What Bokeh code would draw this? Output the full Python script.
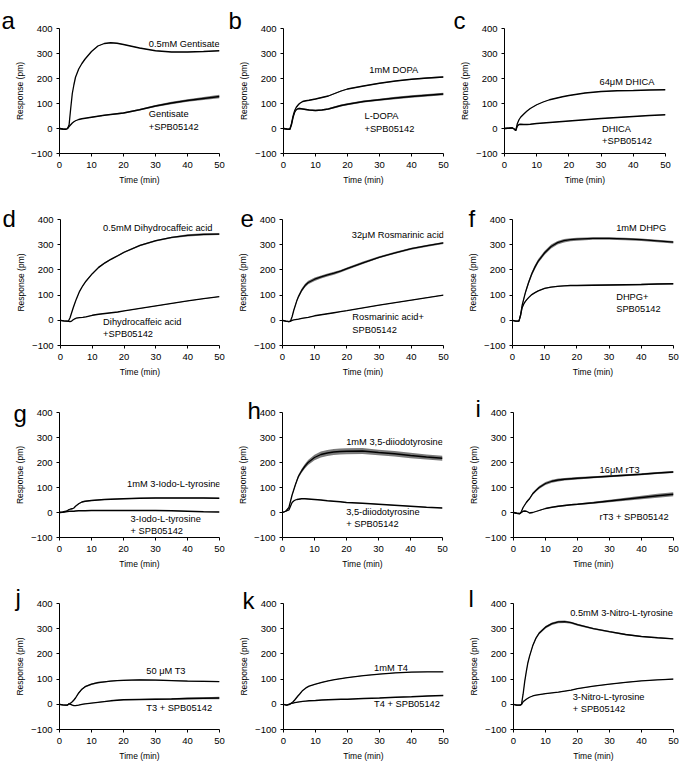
from bokeh.plotting import figure
from bokeh.layouts import column, row
from bokeh.models import Label, Range1d, FixedTicker
from bokeh.embed import file_html
from bokeh.resources import INLINE

# ---------------- data ----------------
T = [0, 1, 2, 2.5, 3, 3.5, 4, 4.5, 5, 6, 7, 8, 10, 12, 14, 16, 18, 20, 25, 30, 35, 40, 45, 50]
X_TICKS = [0, 10, 20, 30, 40, 50]
Y_TICKS = [-100, 0, 100, 200, 300, 400]

a_hi = [0, -2, -3, -1, 15, 80, 140, 175, 205, 238, 260, 278, 308, 330, 340, 343, 341, 336, 322, 311, 306, 306, 308, 311]
a_hi_err = [0, 0, 0, 0, 1, 1, 1, 1, 1, 1, 1, 1, 1, 1, 1, 1, 1, 1, 1, 1, 1, 1, 1, 1]
a_lo = [0, -2, -3, 0, 8, 15, 22, 27, 31, 36, 39, 41, 45, 49, 53, 56, 59, 62, 75, 90, 102, 112, 120, 128]
a_lo_err = [0, 0, 0, 0, 1, 1, 1, 1, 1, 1, 1, 1, 2, 2, 2, 2, 3, 3, 3, 4, 5, 5, 6, 7]

b_hi = [0, -2, -3, 20, 50, 72, 85, 93, 100, 108, 111, 113, 118, 124, 130, 140, 150, 158, 170, 181, 190, 197, 202, 206]
b_hi_err = [0, 0, 0, 1, 2, 2, 2, 2, 2, 2, 2, 2, 2, 2, 2, 2, 2, 2, 2, 2, 2, 2, 3, 3]
b_lo = [0, -2, -3, 15, 45, 65, 75, 79, 80, 78, 76, 74, 72, 74, 78, 85, 92, 97, 108, 115, 122, 128, 133, 138]
b_lo_err = [0, 0, 0, 1, 2, 3, 3, 3, 3, 3, 3, 3, 3, 3, 3, 4, 4, 4, 4, 4, 5, 5, 5, 5]

c_hi = [0, 1, 2, 2, -2, -8, 20, 35, 45, 58, 70, 80, 95, 106, 115, 121, 127, 132, 142, 148, 151, 152, 154, 155]
c_hi_err = [0, 0, 0, 0, 0, 1, 1, 1, 1, 1, 1, 1, 1, 1, 1, 1, 1, 1, 1, 1, 1, 1, 1, 1]
c_lo = [0, 1, 2, 2, -2, -8, 10, 16, 17, 16, 16, 17, 20, 22, 24, 26, 28, 30, 35, 40, 44, 48, 52, 55]
c_lo_err = [0, 0, 0, 0, 0, 1, 1, 1, 1, 1, 1, 1, 1, 1, 1, 1, 1, 1, 1, 1, 1, 1, 1, 1]

d_hi = [0, -2, -3, -3, 10, 30, 50, 68, 85, 115, 137, 155, 185, 210, 228, 243, 256, 270, 297, 316, 329, 337, 341, 342]
d_hi_err = [0, 0, 0, 0, 1, 1, 2, 2, 2, 2, 2, 2, 2, 3, 3, 3, 3, 3, 3, 3, 3, 4, 4, 4]
d_lo = [0, -2, -3, -4, -5, -3, 2, 6, 9, 11, 12, 14, 20, 24, 27, 30, 33, 37, 47, 57, 67, 77, 86, 94]
d_lo_err = [0, 0, 0, 0, 0, 0, 1, 1, 1, 1, 1, 1, 1, 1, 1, 1, 1, 1, 1, 1, 1, 1, 1, 1]

e_hi = [0, -3, -5, -3, 15, 40, 60, 80, 95, 120, 138, 150, 163, 172, 180, 187, 195, 205, 228, 250, 268, 284, 296, 307]
e_hi_err = [0, 0, 0, 0, 2, 3, 4, 5, 6, 7, 7, 7, 7, 6, 6, 6, 5, 5, 5, 4, 4, 4, 4, 4]
e_lo = [0, -3, -5, -3, 0, 2, 3, 4, 5, 8, 10, 12, 18, 22, 26, 30, 34, 38, 49, 60, 70, 80, 90, 100]
e_lo_err = [0, 0, 0, 0, 0, 0, 1, 1, 1, 1, 1, 1, 1, 1, 1, 1, 1, 1, 1, 1, 1, 1, 1, 1]

f_hi = [0, -3, -3, 20, 60, 85, 110, 130, 150, 185, 212, 235, 268, 293, 308, 316, 320, 322, 325, 325, 323, 320, 315, 310]
f_hi_err = [0, 0, 0, 2, 4, 5, 6, 7, 8, 8, 8, 8, 8, 8, 7, 7, 6, 6, 5, 5, 5, 5, 5, 5]
f_lo = [0, -3, -3, 20, 50, 65, 75, 83, 90, 102, 110, 117, 127, 132, 135, 137, 138, 138, 139, 140, 141, 142, 144, 145]
f_lo_err = [0, 0, 0, 1, 2, 2, 2, 2, 2, 2, 2, 2, 2, 2, 2, 2, 2, 2, 3, 3, 3, 3, 3, 3]

g_hi = [0, 2, 5, 8, 12, 14, 15, 18, 25, 35, 42, 45, 48, 50, 52, 53, 54, 55, 57, 58, 58, 58, 58, 57]
g_hi_err = [0, 0, 1, 1, 1, 1, 1, 1, 1, 2, 2, 2, 2, 2, 2, 2, 2, 2, 2, 2, 2, 2, 2, 2]
g_lo = [0, 1, 3, 4, 5, 5, 5, 5, 6, 7, 7, 7, 8, 8, 8, 8, 8, 8, 8, 8, 7, 5, 3, 2]
g_lo_err = [0, 0, 0, 0, 1, 1, 1, 1, 1, 1, 1, 1, 1, 1, 1, 1, 1, 1, 1, 1, 1, 1, 1, 1]

h_hi = [0, 5, 20, 45, 70, 90, 110, 128, 145, 167, 185, 200, 220, 232, 238, 242, 244, 245, 246, 240, 235, 228, 222, 217]
h_hi_err = [0, 0, 1, 2, 3, 4, 5, 6, 7, 8, 9, 10, 11, 12, 12, 12, 12, 12, 12, 11, 11, 11, 10, 10]
h_lo = [0, 5, 10, 25, 40, 46, 50, 52, 53, 55, 55, 54, 52, 50, 47, 45, 43, 40, 37, 33, 29, 25, 21, 18]
h_lo_err = [0, 0, 1, 1, 1, 1, 1, 1, 1, 1, 1, 1, 1, 1, 1, 1, 1, 1, 1, 1, 1, 1, 1, 1]

i_hi = [0, -3, -5, 5, 20, 30, 40, 48, 55, 75, 88, 100, 116, 125, 130, 133, 135, 137, 141, 145, 149, 153, 158, 162]
i_hi_err = [0, 0, 0, 1, 2, 2, 3, 3, 4, 5, 5, 6, 6, 6, 6, 5, 5, 5, 4, 4, 4, 4, 4, 4]
i_lo = [0, -3, -4, 0, 5, 6, 5, 2, -2, 0, 4, 8, 16, 21, 25, 28, 31, 33, 39, 46, 53, 60, 67, 73]
i_lo_err = [0, 0, 0, 0, 1, 1, 1, 1, 1, 1, 1, 2, 2, 2, 3, 3, 3, 3, 4, 5, 6, 7, 8, 8]

j_hi = [0, -2, -3, -3, 2, 5, 10, 17, 25, 45, 60, 70, 80, 86, 89, 92, 94, 95, 97, 96, 94, 92, 91, 90]
j_hi_err = [0, 0, 0, 0, 1, 1, 1, 2, 2, 3, 3, 3, 3, 3, 2, 2, 2, 2, 2, 2, 2, 2, 2, 2]
j_lo = [0, -2, -3, -3, 2, 0, -3, -5, -5, -3, 0, 2, 5, 8, 11, 14, 16, 18, 19, 20, 21, 23, 24, 25]
j_lo_err = [0, 0, 0, 0, 1, 1, 1, 1, 1, 1, 1, 1, 1, 1, 2, 2, 2, 2, 2, 3, 3, 4, 4, 5]

k_hi = [0, -3, 0, 5, 10, 17, 25, 33, 40, 55, 65, 72, 80, 87, 93, 98, 102, 106, 114, 120, 125, 128, 129, 129]
k_hi_err = [0, 0, 0, 0, 1, 1, 1, 1, 1, 1, 1, 1, 1, 1, 1, 1, 1, 1, 1, 1, 1, 1, 1, 1]
k_lo = [0, -3, 2, 4, 5, 7, 8, 9, 10, 12, 13, 14, 15, 17, 18, 19, 20, 20, 23, 25, 28, 30, 33, 35]
k_lo_err = [0, 0, 0, 0, 1, 1, 1, 1, 1, 1, 1, 1, 1, 1, 1, 1, 1, 1, 1, 1, 1, 1, 1, 1]

l_hi = [0, -3, -3, 0, 40, 90, 130, 165, 190, 232, 262, 282, 306, 320, 327, 328, 324, 316, 300, 288, 277, 269, 264, 260]
l_hi_err = [0, 0, 0, 0, 2, 3, 3, 3, 4, 4, 5, 5, 5, 5, 5, 5, 4, 4, 3, 3, 3, 2, 2, 2]
l_lo = [0, -3, -3, 0, 10, 15, 20, 24, 28, 33, 36, 38, 42, 45, 48, 52, 56, 62, 72, 80, 87, 93, 97, 100]
l_lo_err = [0, 0, 0, 0, 1, 1, 1, 1, 1, 1, 1, 1, 1, 1, 1, 1, 1, 1, 1, 1, 1, 1, 1, 2]

# panel letter, series, annotations (text, x, y)
panels = [
    ("a", [(a_hi, a_hi_err), (a_lo, a_lo_err)],
     [("0.5mM Gentisate", 27.9, 337), ("Gentisate", 27.9, 57), ("+SPB05142", 27.9, 7)]),
    ("b", [(b_hi, b_hi_err), (b_lo, b_lo_err)],
     [("1mM DOPA", 26.8, 233), ("L-DOPA", 25.3, 50), ("+SPB05142", 25.3, 0)]),
    ("c", [(c_hi, c_hi_err), (c_lo, c_lo_err)],
     [("64\u03bcM DHICA", 29.5, 185), ("DHICA", 30.3, 0), ("+SPB05142", 30.3, -49)]),
    ("d", [(d_hi, d_hi_err), (d_lo, d_lo_err)],
     [("0.5mM Dihydrocaffeic acid", 13.4, 367), ("Dihydrocaffeic acid", 13.4, -5), ("+SPB05142", 13.4, -56)]),
    ("e", [(e_hi, e_hi_err), (e_lo, e_lo_err)],
     [("32\u03bcM Rosmarinic acid", 21.5, 340), ("Rosmarinic acid+", 21.7, 13), ("SPB05142", 21.7, -37)]),
    ("f", [(f_hi, f_hi_err), (f_lo, f_lo_err)],
     [("1mM DHPG", 32.2, 367), ("DHPG+", 32.2, 93), ("SPB05142", 32.2, 46)]),
    ("g", [(g_hi, g_hi_err), (g_lo, g_lo_err)],
     [("1mM 3-Iodo-L-tyrosine", 21.1, 113), ("3-Iodo-L-tyrosine", 22.2, -27), ("+ SPB05142", 22.2, -73)]),
    ("h", [(h_hi, h_hi_err), (h_lo, h_lo_err)],
     [("1mM 3,5-diiodotyrosine", 19.9, 284), ("3,5-diiodotyrosine", 19.9, 3), ("+ SPB05142", 19.9, -47)]),
    ("i", [(i_hi, i_hi_err), (i_lo, i_lo_err)],
     [("16\u03bcM rT3", 26.9, 171), ("rT3 + SPB05142", 26.9, -17)]),
    ("j", [(j_hi, j_hi_err), (j_lo, j_lo_err)],
     [("50 \u03bcM T3", 27.1, 131), ("T3 + SPB05142", 27.1, -13)]),
    ("k", [(k_hi, k_hi_err), (k_lo, k_lo_err)],
     [("1mM T4", 28.3, 144), ("T4 + SPB05142", 28.3, 0)]),
    ("l", [(l_hi, l_hi_err), (l_lo, l_lo_err)],
     [("0.5mM 3-Nitro-L-tyrosine", 17.7, 364), ("3-Nitro-L-tyrosine", 18.5, 27), ("+ SPB05142", 18.5, -17)]),
]

# ---------------- layout geometry (pixels) ----------------
FONT = "Liberation Sans"
COL_X0 = [0, 225, 450]
COL_W = [225, 225, 229]
# (border_left, frame_width) per row, per column
COL_GEOM = [
    [(59, 160), (58, 160), (54, 161)],
    [(60, 159), (57, 161), (62, 161)],
    [(59, 160), (57, 160), (63, 160)],
    [(59, 160), (58, 160), (63, 160)],
]
ROW_Y0 = [0, 190, 382, 574]
ROW_TOP = [28, 29, 30, 29]
FRAME_HS = [125, 126, 125, 126]
ROW_H = [190, 192, 192, 189]
# letter positions (page pixels: left, baseline)
LETTER_POS = [(1, 20), (228, 20), (453, 20),
              (2, 218), (240, 218), (468, 218),
              (13, 413), (247, 410), (475, 408),
              (15, 597), (242, 600), (468, 598)]

rows = []
for r in range(4):
    figs = []
    for c in range(3):
        idx = r * 3 + c
        letter, series, notes = panels[idx]
        bl, fw = COL_GEOM[r][c]
        W = COL_W[c]
        H = ROW_H[r]
        bt = ROW_TOP[r]
        fh = FRAME_HS[r]
        bb = H - bt - fh
        br = W - bl - fw
        p = figure(width=W, height=H, output_backend="svg", toolbar_location=None,
                   x_range=Range1d(0, 50), y_range=Range1d(-100, 400),
                   min_border_left=bl, min_border_right=br,
                   min_border_top=bt, min_border_bottom=bb)
        p.outline_line_color = None
        p.grid.visible = False
        p.background_fill_color = "white"
        p.border_fill_color = None
        p.xaxis.ticker = FixedTicker(ticks=X_TICKS)
        p.yaxis.ticker = FixedTicker(ticks=Y_TICKS)
        p.xaxis.axis_label = "Time (min)"
        p.yaxis.axis_label = "Response (pm)"
        for ax in (p.xaxis[0], p.yaxis[0]):
            ax.axis_line_color = "black"
            ax.axis_line_width = 1
            ax.major_tick_line_color = "black"
            ax.major_tick_out = 3
            ax.major_tick_in = 0
            ax.minor_tick_out = 0
            ax.minor_tick_in = 0
            ax.major_label_text_font = FONT
            ax.major_label_text_font_size = "9.5px"
            ax.major_label_text_color = "black"
            ax.axis_label_text_font = FONT
            ax.axis_label_text_font_size = "8.5px"
            ax.axis_label_text_font_style = "normal"
            ax.axis_label_text_color = "black"
        p.xaxis.major_label_standoff = 5
        p.xaxis.axis_label_standoff = 4
        p.yaxis.major_label_standoff = 4
        p.yaxis.axis_label_standoff = 3

        xr = p.x_range
        yr = p.y_range
        for ys, err in series:
            lo = [y - e for y, e in zip(ys, err)]
            hi = [y + e for y, e in zip(ys, err)]
            p.varea(x=T, y1=lo, y2=hi, fill_color="#7a7a7a", fill_alpha=1.0)
            p.line(T, ys, line_color="black", line_width=1.3)

        # annotations: data position converted to frame-relative screen units
        for txt, x, y in notes:
            sx = (x - xr.start) / (xr.end - xr.start) * fw
            sy = (y - yr.start) / (yr.end - yr.start) * fh
            p.add_layout(Label(x=sx, y=sy, x_units="screen", y_units="screen", text=txt,
                               text_font=FONT, text_font_size="9.3px",
                               text_color="black", text_align="left", text_baseline="middle"))

        # panel letter placed in the "above" side panel (not clipped to the frame);
        # screen units there are relative to the panel: x from frame left, y up from frame top
        px, py = LETTER_POS[idx]
        frame_left = COL_X0[c] + bl
        frame_top = ROW_Y0[r] + bt
        p.add_layout(Label(x=px - frame_left, y=frame_top - py, x_units="screen", y_units="screen",
                           text=letter, text_font=FONT, text_font_size="24px",
                           text_color="black", text_align="left", text_baseline="alphabetic"),
                     "above")
        figs.append(p)
    rows.append(row(*figs, spacing=0))

layout = column(*rows, spacing=0)
open("out.html", "w").write(file_html(layout, INLINE))
